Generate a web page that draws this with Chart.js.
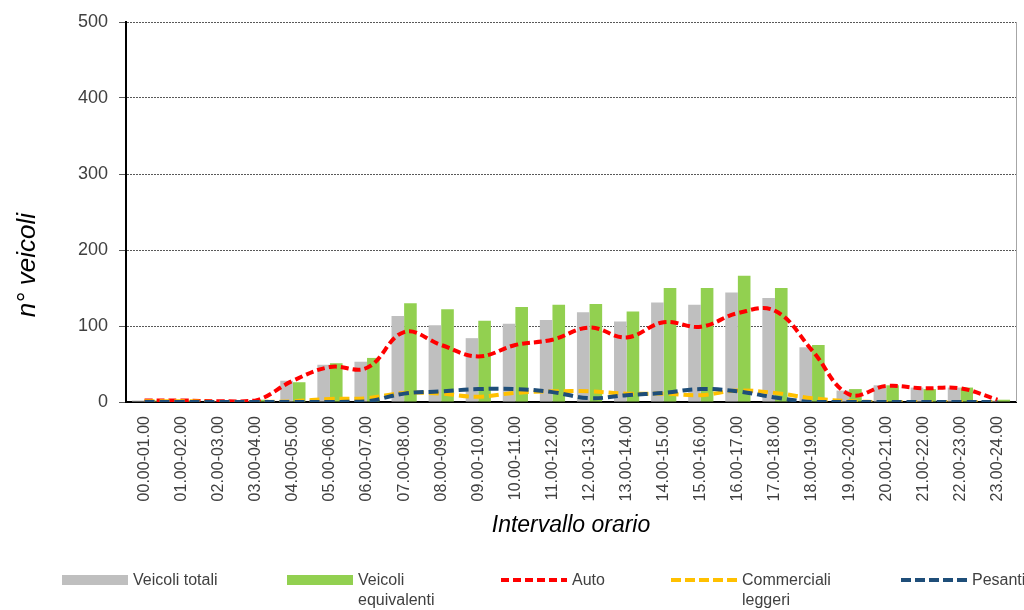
<!DOCTYPE html>
<html>
<head>
<meta charset="utf-8">
<script src="https://cdn.jsdelivr.net/npm/chart.js@4.4.0/dist/chart.umd.min.js"></script>
<style>
  body { margin: 0; background: #fff; }
  #wrap { position: relative; width: 1024px; height: 610px; font-family: "Liberation Sans", Arial, sans-serif; }
  #legend { position: absolute; left: 0; top: 570px; width: 1024px; height: 40px; }
  .item { position: absolute; top: 0; font-size: 16px; color: #404040; line-height: 20px; }
  .sym { position: absolute; left: 0; top: 5px; width: 66px; height: 10px; }
  .txt { position: absolute; left: 71px; top: 0; white-space: nowrap; }
</style>
</head>
<body>
<div id="wrap">
  <canvas id="my-chart" width="1024" height="610"></canvas>
  <div id="legend"></div>
</div>
<script>
const labels = ['00.00-01.00','01.00-02.00','02.00-03.00','03.00-04.00','04.00-05.00','05.00-06.00',
  '06.00-07.00','07.00-08.00','08.00-09.00','09.00-10.00','10.00-11.00','11.00-12.00',
  '12.00-13.00','13.00-14.00','14.00-15.00','15.00-16.00','16.00-17.00','17.00-18.00',
  '18.00-19.00','19.00-20.00','20.00-21.00','21.00-22.00','22.00-23.00','23.00-24.00']

const veicoliTotali      = [2,2,1,1,28,49,53,113,101,84,103,108,118,106,131,128,144,137,72,15,22,19,19,2]
const veicoliEquivalenti = [2,2,1,3,26,51,58,130,122,107,125,128,129,119,150,150,166,150,75,17,22,17,19,3]
const auto               = [2,2,1,2,28,46,45,92,75,60,75,82,98,85,105,99,117,120,68,10,21,18,18,3]
const commerciali        = [1,1,0,0,1,4,5,12,11,7,12,14,14,11,11,9,15,12,5,1,0,0,0,0]
const pesanti            = [0,0,0,0,0,0,1,11,14,17,17,13,5,9,12,17,14,6,0,0,0,0,0,0]

const yTicks = [0, 100, 200, 300, 400, 500]
const yTitle = 'n° veicoli'

const FONT = '"Liberation Sans", Arial, sans-serif'

// thin grey frame on the right of the plot + y title (sits lower than the middle in the original)
const extras = {
  id: 'extras',
  afterDraw(chart) {
    const a = chart.chartArea, ctx = chart.ctx
    ctx.save()
    ctx.strokeStyle = '#a6a6a6'
    ctx.lineWidth = 1
    ctx.beginPath()
    ctx.moveTo(a.right + 0.5, a.top)
    ctx.lineTo(a.right + 0.5, a.bottom)
    ctx.stroke()

    ctx.translate(28, a.top + (a.bottom - a.top) * 0.64)
    ctx.rotate(-Math.PI / 2)
    ctx.fillStyle = '#000'
    ctx.font = 'italic 26px ' + FONT
    ctx.textAlign = 'center'
    ctx.textBaseline = 'middle'
    ctx.fillText(yTitle, 0, 0)
    ctx.restore()
  }
}

const lineDs = (label, data, color, dash, order) => ({
  type: 'line', label: label, data: data, borderColor: color, backgroundColor: color,
  borderWidth: 4, borderDash: dash, tension: 0.4, pointRadius: 0, fill: false, order: order
})

const chart = new Chart(document.getElementById('my-chart'), {
  data: {
    labels: labels,
    datasets: [
      {type: 'bar', label: 'Veicoli totali', data: veicoliTotali, backgroundColor: '#bfbfbf',
        categoryPercentage: 0.68, barPercentage: 1.0, order: 5},
      {type: 'bar', label: 'Veicoli equivalenti', data: veicoliEquivalenti, backgroundColor: '#92d050',
        categoryPercentage: 0.68, barPercentage: 1.0, order: 5},
      lineDs('Auto', auto, '#ff0000', [8, 4], 2),
      lineDs('Commerciali leggeri', commerciali, '#ffc000', [10, 5], 1),
      lineDs('Pesanti', pesanti, '#1f4e79', [10, 5], 0),
    ]
  },
  options: {
    responsive: false,
    animation: false,
    devicePixelRatio: 1,
    layout: {padding: {top: 22, right: 8, bottom: 65, left: 0}},
    plugins: {legend: {display: false}, tooltip: {enabled: false}},
    scales: {
      x: {
        grid: {display: false},
        border: {color: '#000', width: 2},
        ticks: {minRotation: 90, maxRotation: 90, autoSkip: false, padding: 6,
          color: '#404040', font: {family: FONT, size: 16}},
        title: {display: true, text: 'Intervallo orario', color: '#000',
          font: {family: FONT, size: 23, style: 'italic'}, padding: {top: 4, bottom: 6}},
        afterFit: s => { s.height = 143 }
      },
      y: {
        min: 0, max: 500,
        afterBuildTicks: s => { s.ticks = yTicks.map(v => ({value: v})) },
        grid: {color: c => c.tick && c.tick.value === 0 ? 'rgba(0,0,0,0)' : '#595959',
          tickColor: '#595959', tickLength: 7, lineWidth: 1},
        border: {color: '#000', width: 2, dash: [2, 1]},
        ticks: {padding: 11, color: '#404040', font: {family: FONT, size: 18}},
        afterFit: s => { s.width = 126 }
      }
    }
  },
  plugins: [extras]
})

// legend below the chart, same order and colours as the datasets
const legendItems = [
  {text: 'Veicoli totali', x: 62, bg: '#bfbfbf'},
  {text: 'Veicoli<br>equivalenti', x: 287, bg: '#92d050'},
  {text: 'Auto', x: 501, bg: 'repeating-linear-gradient(90deg, #ff0000 0 8px, transparent 8px 12px)', line: true},
  {text: 'Commerciali<br>leggeri', x: 671, bg: 'repeating-linear-gradient(90deg, #ffc000 0 10px, transparent 10px 14px)', line: true},
  {text: 'Pesanti', x: 901, bg: 'repeating-linear-gradient(90deg, #1f4e79 0 10px, transparent 10px 14px)', line: true},
]
const leg = document.getElementById('legend')
legendItems.forEach(it => {
  const d = document.createElement('div')
  d.className = 'item'
  d.style.left = it.x + 'px'
  const symStyle = it.line ? 'top:8px;height:4px;' : ''
  d.innerHTML = '<div class="sym" style="' + symStyle + 'background:' + it.bg + '"></div><div class="txt">' + it.text + '</div>'
  leg.appendChild(d)
})
</script>
</body>
</html>
